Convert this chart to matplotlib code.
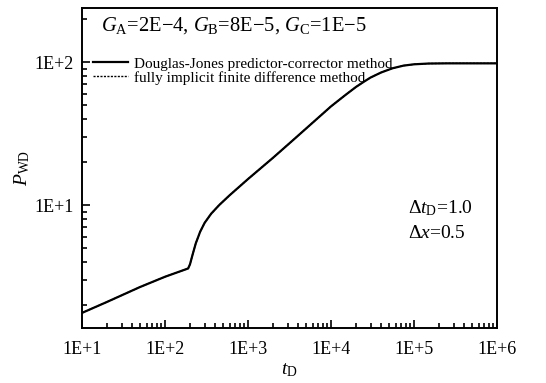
import matplotlib
matplotlib.use("Agg")
import matplotlib.pyplot as plt

# ---- data ----
t_D = [10, 20, 50, 100, 190, 200, 215, 235, 265, 300, 360, 450, 600, 1000, 2000, 3500,
       10000, 15000, 20000, 25000, 30000, 40000, 55000, 75000, 100000, 150000, 250000, 1000000]
p_douglas = [1.76, 2.10, 2.67, 3.15, 3.60, 3.85, 4.5, 5.4, 6.5, 7.5, 8.7, 10.0, 11.7, 15.2, 21.4, 28.5,
             49.0, 59.0, 67.0, 73.0, 78.0, 84.5, 90.5, 94.5, 96.5, 97.7, 98.0, 98.0]
p_implicit = [1.76, 2.10, 2.67, 3.15, 3.60, 3.85, 4.5, 5.4, 6.5, 7.5, 8.7, 10.0, 11.7, 15.2, 21.4, 28.5,
              49.0, 59.0, 67.0, 73.0, 78.0, 84.5, 90.5, 94.5, 96.5, 97.7, 98.0, 98.0]

x_ticks = [10, 100, 1000, 10000, 100000, 1000000]
x_ticklabels = ["1E+1", "1E+2", "1E+3", "1E+4", "1E+5", "1E+6"]
y_ticks = [10, 100]
y_ticklabels = ["1E+1", "1E+2"]

plt.rcParams['font.family'] = ['Liberation Serif', 'DejaVu Serif']
plt.rcParams['mathtext.fontset'] = 'custom'
plt.rcParams['mathtext.rm'] = 'Liberation Serif'
plt.rcParams['mathtext.it'] = 'Liberation Serif:italic'

fig = plt.figure(figsize=(5.46, 3.83), dpi=100)
ax = fig.add_axes([82/546, 1-328/383, 415/546, 320/383])

ax.plot(t_D, p_douglas, color='black', lw=1.6, label='Douglas-Jones predictor-corrector method')
ax.plot(t_D, p_implicit, color='black', lw=1.0, ls=(0, (1.5, 1)), label='fully implicit finite difference method')

ax.set_xscale('log')
ax.set_yscale('log')
ax.set_xlim(10, 1e6)
ax.set_ylim(1.38, 239)

ax.set_xticks(x_ticks)
ax.set_xticklabels(x_ticklabels)
ax.set_yticks(y_ticks)
ax.set_yticklabels(y_ticklabels)
ax.tick_params(axis='both', which='both', direction='in', labelsize=13, top=False, right=False, width=1.2)
ax.tick_params(which='major', length=6)
ax.tick_params(axis='x', which='major', pad=9)
ax.tick_params(axis='y', which='major', pad=6)
ax.tick_params(which='minor', length=3.5)
for s in ax.spines.values():
    s.set_linewidth(1.4)

ax.set_xlabel(r'$t_{\mathrm{D}}$', fontsize=14, labelpad=3)
ax.set_ylabel(r'$P_{\mathrm{WD}}$', fontsize=14, labelpad=2)

ax.text(0.045, 0.945, r'$G_{\mathrm{A}}$=2E−4, $G_{\mathrm{B}}$=8E−5, $G_{\mathrm{C}}$=1E−5',
        transform=ax.transAxes, fontsize=14.8, va='center', ha='left')

leg = ax.legend(loc='upper left', bbox_to_anchor=(0.0, 0.88), frameon=False, fontsize=11,
                handlelength=2.3, handletextpad=0.4, labelspacing=0.0, borderaxespad=0.3)

ax.text(0.785, 0.375, r'$\Delta t_{\mathrm{D}}$=1.0', transform=ax.transAxes, fontsize=14, va='center', ha='left')
ax.text(0.785, 0.295, r'$\Delta x$=0.5', transform=ax.transAxes, fontsize=14, va='center', ha='left')

fig.savefig('out.png', dpi=100)
